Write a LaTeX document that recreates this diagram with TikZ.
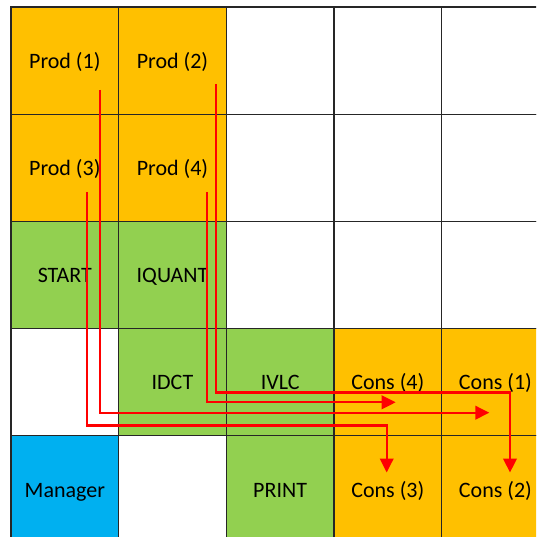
\documentclass[tikz,border=0pt]{standalone}
\usepackage{fontspec}
\setmainfont{Carlito}
\usetikzlibrary{arrows.meta}
\definecolor{prodorange}{HTML}{FFC000}
\definecolor{taskgreen}{HTML}{92D050}
\definecolor{mgrblue}{HTML}{00B0F0}
\begin{document}
\begin{tikzpicture}[x=1pt,y=-1pt,
  cell/.style={draw=black!85, line width=1.2pt, minimum width=107.65pt,
    minimum height=107.2pt, inner sep=0pt, text=black,
    text height=18pt, text depth=2.6pt,
    font=\fontsize{22}{26}\selectfont},
  prod/.style={cell, fill=prodorange},
  task/.style={cell, fill=taskgreen},
  mgr/.style={cell, fill=mgrblue},
  free/.style={cell, fill=white},
  flow/.style={draw=red, line width=2.3pt, miter limit=10,
    -{Triangle[length=14pt,width=13.5pt]}}]
\clip (0,0) rectangle (536,537);
\fill[white] (0,0) rectangle (536,537);
% row 1
\node[prod] (p1) at (64.83,60.6) {Prod (1)};
\node[prod] (p2) at (172.48,60.6) {Prod (2)};
\node[free] (e13) at (280.13,60.6) {};
\node[free] (e14) at (387.78,60.6) {};
\node[free] (e15) at (495.43,60.6) {};
% row 2
\node[prod] (p3) at (64.83,167.8) {Prod (3)};
\node[prod] (p4) at (172.48,167.8) {Prod (4)};
\node[free] (e23) at (280.13,167.8) {};
\node[free] (e24) at (387.78,167.8) {};
\node[free] (e25) at (495.43,167.8) {};
% row 3
\node[task] (start) at (64.83,275.0) {START};
\node[task] (iquant) at (172.48,275.0) {IQUANT};
\node[free] (e33) at (280.13,275.0) {};
\node[free] (e34) at (387.78,275.0) {};
\node[free] (e35) at (495.43,275.0) {};
% row 4
\node[free] (e41) at (64.83,382.2) {};
\node[task] (idct) at (172.48,382.2) {IDCT};
\node[task] (ivlc) at (280.13,382.2) {IVLC};
\node[prod] (c4) at (387.78,382.2) {Cons (4)};
\node[prod] (c1) at (495.43,382.2) {Cons (1)};
% row 5
\node[mgr] (manager) at (64.83,489.4) {Manager};
\node[free] (e52) at (172.48,489.4) {};
\node[task] (print) at (280.13,489.4) {PRINT};
\node[prod] (c3) at (387.78,489.4) {Cons (3)};
\node[prod] (c2) at (495.43,489.4) {Cons (2)};
% end points of the producer/consumer links
\coordinate (s1) at (100,90);
\coordinate (s2) at (215.7,84);
\coordinate (s3) at (86.7,192);
\coordinate (s4) at (207.3,192);
\coordinate (t1) at (489.3,412.7);
\coordinate (t4) at (395.7,402.3);
\coordinate (t2) at (510,472.5);
\coordinate (t3) at (386.7,472.5);
\coordinate (b2) at (215.7,392.6);
\coordinate (b3) at (86.7,425.6);
% links
\draw[flow] (s1) |- (t1);
\draw[flow] (s4) |- (t4);
\draw[flow] (s2) -- (b2) -| (t2);
\draw[flow] (s3) -- (b3) -| (t3);
\end{tikzpicture}
\end{document}
